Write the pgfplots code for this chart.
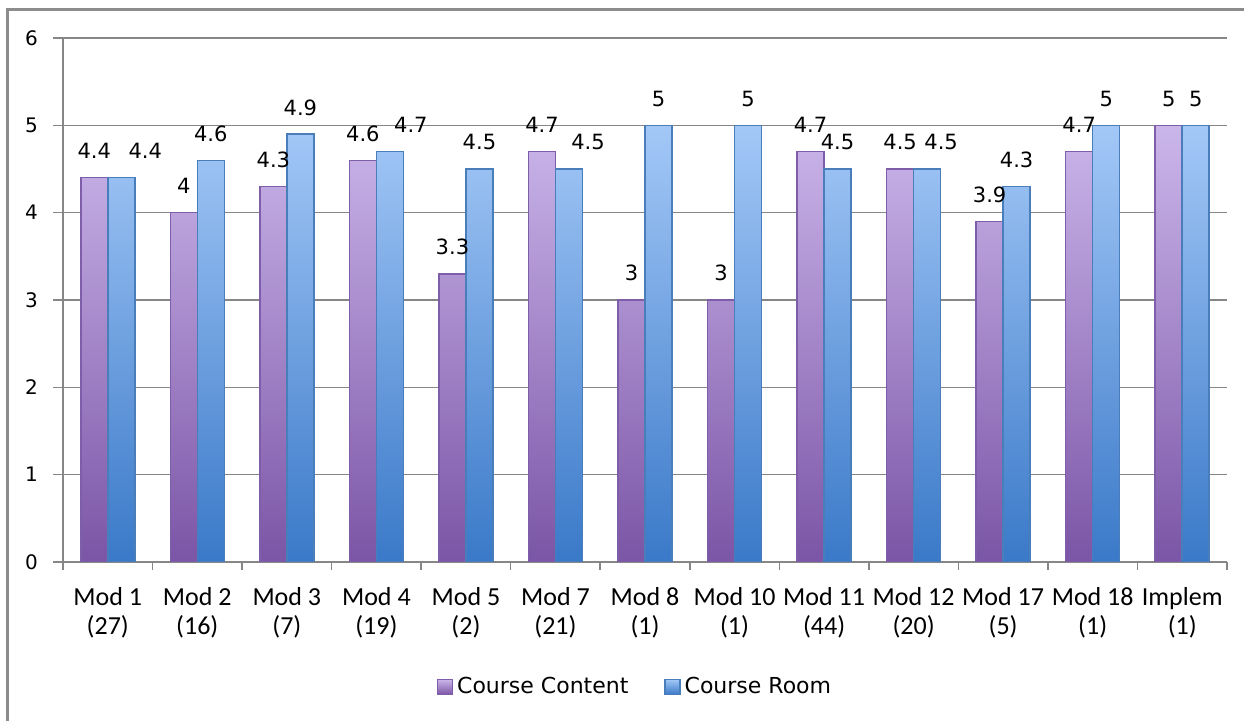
\documentclass[border=0pt]{standalone}
\usepackage{pgfplots}
\pgfplotsset{compat=1.18}
\usepackage{pgfplotstable}
\usepackage{fontspec}
\setmainfont{DejaVu Sans}
\newfontfamily\carlito{Carlito}

\definecolor{cctop}{HTML}{CBB6EA}
\definecolor{ccbot}{HTML}{7B55A6}
\definecolor{ccedge}{HTML}{7E5EA9}
\definecolor{crtop}{HTML}{A3C8F7}
\definecolor{crbot}{HTML}{3A79C8}
\definecolor{credge}{HTML}{4A7EBB}
\definecolor{framegray}{HTML}{8C8C8C}
\definecolor{axisgray}{HTML}{868686}

% course evaluation per module, (n) = number of responses
% dx = sideways shift (pt) of the Course Room value label
\pgfplotstableread{
x content room dx
0  4.4 4.4 12
1  4.0 4.6 0
2  4.3 4.9 0
3  4.6 4.7 10.5
4  3.3 4.5 0
5  4.7 4.5 9.5
6  3.0 5.0 0
7  3.0 5.0 0
8  4.7 4.5 0
9  4.5 4.5 7
10 3.9 4.3 0
11 4.7 5.0 0
12 5.0 5.0 0
}\scores

\begin{document}
\begin{tikzpicture}
\useasboundingbox (0,0) rectangle (622pt,360.5pt);
\draw[framegray, line width=1.5pt] (3.75pt,0) -- (3.75pt,355.75pt) -- (622pt,355.75pt);
\begin{axis}[
    at={(31.5pt,79.5pt)}, anchor=south west,
    scale only axis, width=582pt, height=262pt,
    /pgf/number format/assume math mode=true,
    ybar=0pt, bar width=13.5pt,
    xmin=-0.5, xmax=12.5, ymin=0, ymax=6,
    axis x line*=bottom, axis y line*=left,
    axis line style={axisgray, line width=1pt},
    ytick={0,...,6},
    xtick={0,...,12},
    minor xtick={-0.5,0.5,...,12.5},
    xticklabels={{Mod 1\\(27)},{Mod 2\\(16)},{Mod 3\\(7)},{Mod 4\\(19)},{Mod 5\\(2)},{Mod 7\\(21)},{Mod 8\\(1)},{Mod 10\\(1)},{Mod 11\\(44)},{Mod 12\\(20)},{Mod 17\\(5)},{Mod 18\\(1)},{Implem\\(1)}},
    tick align=outside,
    major x tick style={draw=none},
    minor x tick style={axisgray, line width=0.75pt},
    minor tick length=4pt,
    y tick style={axisgray, line width=0.75pt},
    major tick length=5pt,
    ymajorgrids,
    grid style={axisgray, line width=0.6pt},
    xticklabel style={font=\carlito\fontsize{13}{14.5}\selectfont, align=center, anchor=north, yshift=-4pt},
    yticklabel style={font=\fontsize{10}{12}\selectfont, xshift=-4pt},
    nodes near coords,
    every node near coord/.append style={font=\fontsize{10.5}{12}\selectfont, anchor=south, inner sep=0pt, yshift=9pt, black},
    legend style={at={(0.4923,-0.2385)}, anchor=center, draw=none, fill=none,
        legend columns=2, font=\fontsize{11}{13}\selectfont,
        /tikz/every even column/.append style={column sep=16pt}},
    legend image code/.code={\draw[#1, line width=0.6pt] (0pt,-3.75pt) rectangle (7.5pt,3.75pt);},
]
\addplot[draw=ccedge, line width=0.75pt, top color=cctop, bottom color=ccbot] table[x=x, y=content] {\scores};
\addplot[draw=credge, line width=0.75pt, top color=crtop, bottom color=crbot,
    visualization depends on={\thisrow{dx} \as \dx},
    every node near coord/.append style={xshift=\dx pt}] table[x=x, y=room] {\scores};
\legend{Course Content, Course Room}
\end{axis}
\end{tikzpicture}
\end{document}
